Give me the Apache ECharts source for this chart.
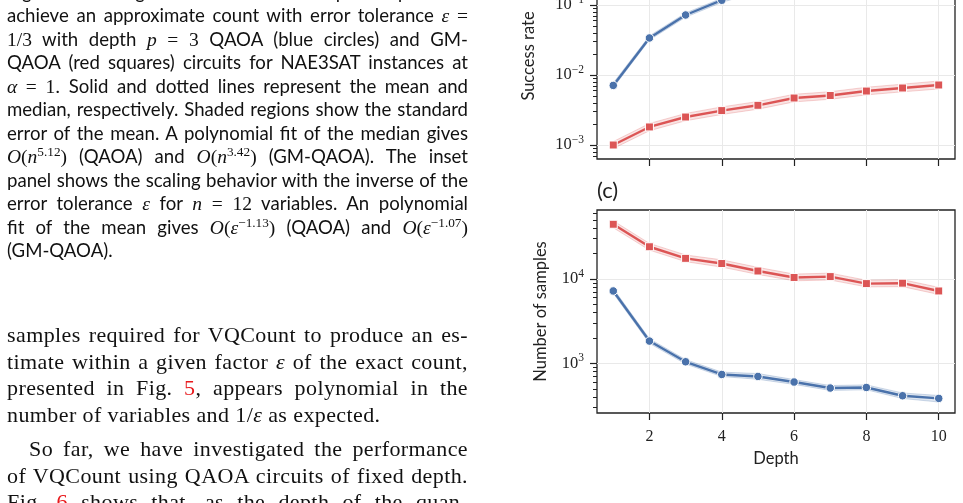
<!DOCTYPE html>
<html>
<head>
<meta charset="utf-8">
<script src="https://cdn.jsdelivr.net/npm/echarts@6/dist/echarts.min.js"></script>
<style>
html, body { margin: 0; padding: 0; background: #fff; }
#chart { position: absolute; left: 0; top: 0; width: 963px; height: 503px; }
.ln { position: absolute; left: 7px; width: 461px; white-space: nowrap; z-index: 2; color: #111; }
.cap { font-family: Lato, "Liberation Sans", sans-serif; font-size: 18.6px; line-height: 24px; }
.txt { font-family: "Liberation Serif", serif; font-size: 22px; line-height: 26px; letter-spacing: 0.4px; }
.j { text-align: justify; text-align-last: justify; }
.m { font-family: "Liberation Serif", "DejaVu Serif", serif; font-size: 1.05em; }
sup { font-size: 0.68em; line-height: 0; }
.ref { color: #e8191c; }
</style>
</head>
<body>
<div id="chart"></div>

<div class="ln cap j" style="top:-20.5px">Figure 5: Scaling of the number of samples required to</div>
<div class="ln cap j" style="top:3px">achieve an approximate count with error tolerance <span class="m"><i>ε</i> =</span></div>
<div class="ln cap j" style="top:26.5px"><span class="m">1/3</span> with depth <span class="m"><i>p</i> = 3</span> QAOA (blue circles) and GM-</div>
<div class="ln cap j" style="top:50px">QAOA (red squares) circuits for NAE3SAT instances at</div>
<div class="ln cap j" style="top:73.5px"><span class="m"><i>α</i> = 1.</span> Solid and dotted lines represent the mean and</div>
<div class="ln cap j" style="top:97px">median, respectively. Shaded regions show the standard</div>
<div class="ln cap j" style="top:120.5px">error of the mean. A polynomial fit of the median gives</div>
<div class="ln cap j" style="top:144px"><span class="m"><i>O</i>(<i>n</i><sup>5.12</sup>)</span> (QAOA) and <span class="m"><i>O</i>(<i>n</i><sup>3.42</sup>)</span> (GM-QAOA). The inset</div>
<div class="ln cap j" style="top:167.5px">panel shows the scaling behavior with the inverse of the</div>
<div class="ln cap j" style="top:191px">error tolerance <span class="m"><i>ε</i></span> for <span class="m"><i>n</i> = 12</span> variables. An polynomial</div>
<div class="ln cap j" style="top:214.5px">fit of the mean gives <span class="m"><i>O</i>(<i>ε</i><sup>−1.13</sup>)</span> (QAOA) and <span class="m"><i>O</i>(<i>ε</i><sup>−1.07</sup>)</span></div>
<div class="ln cap" style="top:238px">(GM-QAOA).</div>

<div class="ln txt j" style="top:322px">samples required for VQCount to produce an es-</div>
<div class="ln txt j" style="top:348.7px">timate within a given factor <i>ε</i> of the exact count,</div>
<div class="ln txt j" style="top:375px">presented in Fig. <span class="ref">5</span>, appears polynomial in the</div>
<div class="ln txt" style="top:401.7px">number of variables and 1/<i>ε</i> as expected.</div>
<div class="ln txt j" style="top:436.3px;text-indent:22px">So far, we have investigated the performance</div>
<div class="ln txt j" style="top:463px">of VQCount using QAOA circuits of fixed depth.</div>
<div class="ln txt j" style="top:489px">Fig. <span class="ref">6</span> shows that, as the depth of the quan-</div>

<script>
// depth values shared by both panels
var depth = [1, 2, 3, 4, 5, 6, 7, 8, 9, 10];
var depthTicks = [2, 4, 6, 8, 10];

// (b) success rate
var rateQaoa = [0.0071, 0.0338, 0.072, 0.117, 0.165, 0.21, 0.25, 0.285, 0.315, 0.34];
var rateQaoaLo = [0.0066, 0.0316, 0.067, 0.109, 0.154, 0.196, 0.234, 0.267, 0.295, 0.318];
var rateQaoaHi = [0.0077, 0.0362, 0.077, 0.125, 0.176, 0.224, 0.266, 0.303, 0.335, 0.362];
var rateGm = [0.00100, 0.00181, 0.00251, 0.00310, 0.00369, 0.00469, 0.00510, 0.00590, 0.00652, 0.00720];
var rateGmLo = [0.00089, 0.00160, 0.00222, 0.00273, 0.00325, 0.00413, 0.00450, 0.00520, 0.00575, 0.00632];
var rateGmHi = [0.00112, 0.00203, 0.00282, 0.00350, 0.00418, 0.00530, 0.00577, 0.00668, 0.00740, 0.00820];
var rateTicks = [0.001, 0.01, 0.1];
var rateMinor = [0.0007, 0.0008, 0.0009,
  0.002, 0.003, 0.004, 0.005, 0.006, 0.007, 0.008, 0.009,
  0.02, 0.03, 0.04, 0.05, 0.06, 0.07, 0.08, 0.09,
  0.2, 0.3, 0.4, 0.5];

// (c) number of samples
var sampQaoa = [7200, 1840, 1047, 741, 702, 603, 512, 520, 415, 386];
var sampQaoaLo = [6750, 1730, 985, 700, 650, 565, 480, 488, 385, 350];
var sampQaoaHi = [7700, 1960, 1110, 790, 760, 645, 548, 558, 448, 418];
var sampGm = [44300, 24000, 17500, 15200, 12400, 10400, 10650, 8800, 8900, 7200];
var sampGmLo = [40300, 21900, 16000, 13800, 11300, 9500, 9700, 8050, 8100, 6550];
var sampGmHi = [48700, 26300, 19200, 16800, 13700, 11400, 11700, 9650, 9800, 7950];
var sampTicks = [1000, 10000];
var sampMinor = [300, 400, 500, 600, 700, 800, 900,
  2000, 3000, 4000, 5000, 6000, 7000, 8000, 9000,
  20000, 30000, 40000, 50000, 60000];

var blue = '#4a72ab';
var red = '#dc5555';
var ink = '#222';
var serif = '"Liberation Serif", "DejaVu Serif", serif';
var sans = 'Lato, "Liberation Sans", sans-serif';

var rateRange = [Math.pow(10, -3.2), Math.pow(10, -0.257)];
var sampRange = [Math.pow(10, 2.414), Math.pow(10, 4.815)];

var chart = echarts.init(document.getElementById('chart'));

function pow10Label(v) {
  var e = Math.round(Math.log10(v));
  return '{b|10}{s|' + String(e).replace('-', '−') + '}';
}

function xAxis(idx, showLabels) {
  return {
    type: 'value', gridIndex: idx, min: 0.55, max: 10.45,
    name: showLabels ? 'Depth' : '', nameLocation: 'middle', nameGap: 37,
    nameTextStyle: { fontFamily: sans, fontSize: 16.5, color: ink },
    axisLine: { show: false },
    axisTick: { show: true, customValues: depthTicks, length: 7, inside: false, lineStyle: { color: ink, width: 1.2 } },
    axisLabel: { show: showLabels, customValues: depthTicks, margin: 16, fontFamily: serif, fontSize: 16, color: ink },
    splitLine: { show: true, lineStyle: { color: '#e9e9e9', width: 1 } }
  };
}

function yAxis(idx, range, ticks, name, gap) {
  return {
    type: 'log', gridIndex: idx, logBase: 10, min: range[0], max: range[1],
    name: name, nameLocation: 'middle', nameGap: gap, nameRotate: 90,
    nameTextStyle: { fontFamily: sans, fontSize: 16.5, color: ink },
    axisLine: { show: false },
    axisTick: { show: true, customValues: ticks, length: 7, lineStyle: { color: ink, width: 1.2 } },
    axisLabel: {
      customValues: ticks, margin: 13, formatter: pow10Label,
      rich: {
        b: { fontFamily: serif, fontSize: 16.5, color: ink },
        s: { fontFamily: serif, fontSize: 11.5, color: ink, padding: [0, 0, 10, 0] }
      }
    },
    splitLine: { show: true, lineStyle: { color: '#e9e9e9', width: 1 } }
  };
}

// second log axis on the same grid, only for the small ticks between decades
function minorAxis(idx, range, minor) {
  return {
    type: 'log', gridIndex: idx, logBase: 10, min: range[0], max: range[1],
    position: 'left', offset: 0,
    axisLine: { show: false },
    axisTick: { show: true, customValues: minor, length: 4, lineStyle: { color: ink, width: 1 } },
    axisLabel: { show: false },
    splitLine: { show: false }
  };
}

function band(idx, lo, hi, color, edge) {
  return {
    type: 'custom', xAxisIndex: idx, yAxisIndex: idx, silent: true, z: 1, clip: true,
    data: depth.map(function (d, i) { return [d, lo[i], hi[i]]; }),
    encode: { x: 0, y: [1, 2] },
    renderItem: function (params, api) {
      if (params.dataIndex !== 0) return null;
      var pts = [];
      for (var i = 0; i < depth.length; i++) pts.push(api.coord([depth[i], hi[i]]));
      for (var j = depth.length - 1; j >= 0; j--) pts.push(api.coord([depth[j], lo[j]]));
      return { type: 'polygon', shape: { points: pts }, style: { fill: color, stroke: edge, lineWidth: 1 } };
    }
  };
}

function line(idx, values, color, symbol) {
  return {
    type: 'line', xAxisIndex: idx, yAxisIndex: idx, z: 3, clip: true,
    data: depth.map(function (d, i) { return [d, values[i]]; }),
    symbol: symbol, symbolSize: symbol === 'rect' ? 8 : 8.5, showSymbol: true,
    lineStyle: { color: color, width: 2.4 },
    itemStyle: { color: color, borderColor: '#fff', borderWidth: 1 }
  };
}

chart.setOption({
  animation: false,
  backgroundColor: '#fff',
  grid: [
    { left: 597, right: 8, top: -47, bottom: 344, outerBoundsMode: 'none', containLabel: false,
      show: true, borderColor: ink, borderWidth: 1.3, backgroundColor: '#fff' },
    { left: 597, right: 8, top: 210, bottom: 90, outerBoundsMode: 'none', containLabel: false,
      show: true, borderColor: ink, borderWidth: 1.3, backgroundColor: '#fff' }
  ],
  xAxis: [xAxis(0, false), xAxis(1, true)],
  yAxis: [
    yAxis(0, rateRange, rateTicks, 'Success rate', 60),
    yAxis(1, sampRange, sampTicks, 'Number of samples', 48),
    minorAxis(0, rateRange, rateMinor),
    minorAxis(1, sampRange, sampMinor)
  ],
  graphic: [
    { type: 'text', left: 597, top: 180, style: { text: '(c)', fontFamily: sans, fontSize: 22, fill: ink } }
  ],
  series: [
    band(0, rateQaoaLo, rateQaoaHi, 'rgba(74,114,171,0.18)', 'rgba(74,114,171,0.25)'),
    band(0, rateGmLo, rateGmHi, 'rgba(220,85,85,0.16)', 'rgba(220,85,85,0.25)'),
    band(1, sampQaoaLo, sampQaoaHi, 'rgba(74,114,171,0.18)', 'rgba(74,114,171,0.25)'),
    band(1, sampGmLo, sampGmHi, 'rgba(220,85,85,0.16)', 'rgba(220,85,85,0.25)'),
    line(0, rateQaoa, blue, 'circle'),
    line(0, rateGm, red, 'rect'),
    line(1, sampQaoa, blue, 'circle'),
    line(1, sampGm, red, 'rect')
  ]
});
</script>
</body>
</html>
